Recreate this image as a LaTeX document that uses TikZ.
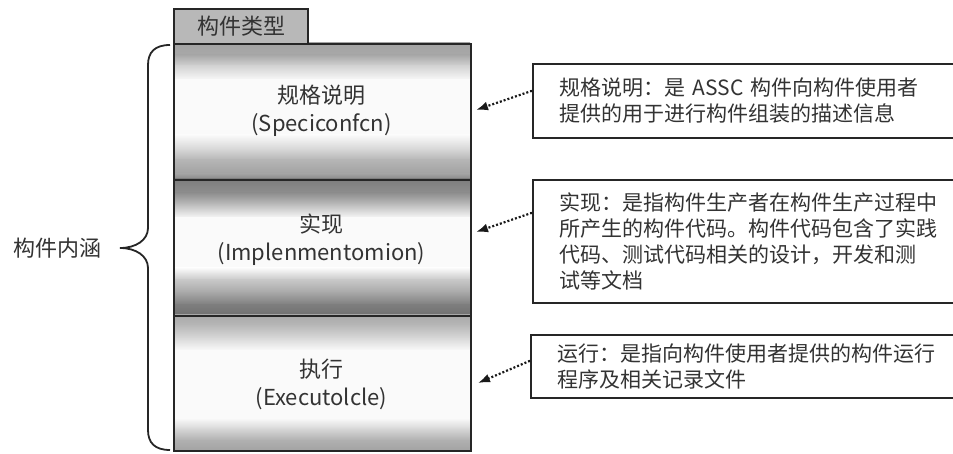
\documentclass[tikz,border=0pt]{standalone}
\usepackage{fontspec}
\newfontfamily\cjk{Noto Sans CJK SC}
\usetikzlibrary{arrows.meta}
\begin{document}
\begin{tikzpicture}[x=1pt,y=-1pt,
  base/.style={font=\cjk\fontsize{22}{28}\selectfont, text=black!80},
  sect/.style={draw=black!85, line width=2pt, minimum width=297pt, minimum height=136pt, inner sep=0pt, anchor=north west},
  seclab/.style={base, align=center, inner sep=0pt},
  desc/.style={draw=black!85, line width=1.6pt, fill=white, align=left, text width=400pt, inner xsep=27pt, inner ysep=0pt, anchor=north west, font=\cjk\fontsize{21}{26}\selectfont, text=black!80},
  darrow/.style={draw=black!90, line width=2.2pt, dash pattern=on 2pt off 2pt, -{Latex[length=12pt,width=9pt]}},
  bracestyle/.style={draw=black!85, line width=1.8pt}]
\useasboundingbox (0,0) rectangle (953,454);
\clip (0,0) rectangle (953,454);
\fill[white] (0,0) rectangle (953,454);
% shaded bands of the three sections
\foreach \ya/\ka/\yb/\kb in {
  43/36/55/34, 55/34/66/17, 66/17/80/2, 80/2/135/2, 135/2/150/17, 150/17/160/29, 160/29/174/37, 174/37/179/47,
  179/51/193/44, 193/44/205/25, 205/25/218/2, 218/2/268/2, 268/2/280/22, 280/22/292/34, 292/34/305/51, 305/51/315/56,
  315/34/325/28, 325/28/338/15, 338/15/350/2, 350/2/418/2, 418/2/428/15, 428/15/440/31, 440/31/450/36}
  \shade[top color=black!\ka, bottom color=black!\kb] (173,\ya) rectangle (470,\yb+0.5);
% tab
\node (tab) [base, draw=black!85, line width=2pt, fill=black!28, minimum width=134pt, minimum height=35pt, inner sep=0pt, anchor=north west] at (173,8) {构件类型};
% sections
\node (s1) [sect] at (173,43) {};
\node (s2) [sect] at (173,179) {};
\node (s3) [sect, minimum height=135pt] at (173,315) {};
\node (l1) [seclab] at (321.5,111) {规格说明\\(Speciconfcn)};
\node (l2) [seclab] at (321.5,240) {实现\\(Implenmentomion)};
\node (l3) [seclab] at (321.5,384) {执行\\(Executolcle)};
% brace
\draw[bracestyle] (170,45) .. controls (155,45) and (148,52) .. (148,65) -- (148,228) .. controls (148,240) and (136,248) .. (120,248) .. controls (136,248) and (148,256) .. (148,268) -- (148,430) .. controls (148,443) and (155,450) .. (170,450);
\node (inner) [base, anchor=east, inner sep=0pt] at (102,248) {构件内涵};
% descriptions
\node (d1) [desc, minimum height=74pt] at (532,63) {规格说明：是 ASSC 构件向构件使用者\\提供的用于进行构件组装的描述信息};
\node (d2) [desc, minimum height=123pt] at (532,179) {实现：是指构件生产者在构件生产过程中\\所产生的构件代码。构件代码包含了实践\\代码、测试代码相关的设计，开发和测\\试等文档};
\node (d3) [desc, minimum height=63pt] at (530,334) {运行：是指向构件使用者提供的构件运行\\程序及相关记录文件};
% arrows
\coordinate (a1) at (476,110);
\coordinate (a2) at (476,232);
\coordinate (a3) at (478,383);
\draw[darrow] ([yshift=10pt]d1.west) -- (a1);
\draw[darrow] ([yshift=28.5pt]d2.west) -- (a2);
\draw[darrow] ([yshift=5.5pt]d3.west) -- (a3);
\end{tikzpicture}
\end{document}
